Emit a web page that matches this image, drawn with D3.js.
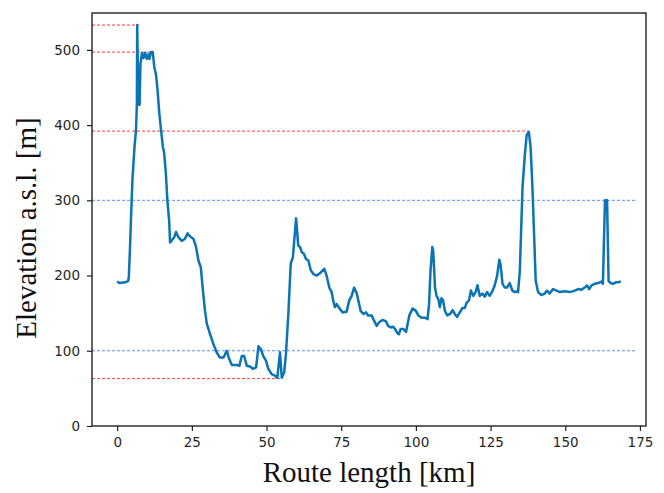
<!DOCTYPE html>
<html>
<head>
<meta charset="utf-8">
<script src="https://cdn.jsdelivr.net/npm/d3@7"></script>
<style>
	body { margin: 0; background: #fff; }
	svg { display: block; }
</style>
</head>
<body>
<div id="chart"></div>
<script>
const routeKm = [0, 0.7, 2.7, 3.7, 3.9, 4.3, 4.6, 5.1, 5.8, 6.3, 6.6, 6.7, 7.1, 7.5, 7.8, 8.3, 8.8, 9.4, 9.9, 10.5, 10.8, 11.3, 11.9, 12.4, 13.0, 13.5, 14.1, 14.7, 15.3, 15.7, 16.3, 16.8, 17.4, 17.7, 18.3, 19.1, 19.7, 20.5, 21.6, 22.7, 23.6, 24.4, 25.5, 26.4, 27.2, 28.0, 28.7, 29.4, 30.0, 31.1, 32.2, 33.3, 34.4, 35.6, 36.7, 37.5, 38.4, 40.0, 40.9, 41.7, 42.5, 43.4, 44.5, 45.4, 46.5, 47.3, 48.1, 48.9, 49.8, 50.6, 51.7, 52.8, 53.6, 54.5, 55.1, 55.9, 56.5, 57.3, 58.1, 58.8, 59.9, 60.6, 61.2, 61.8, 62.5, 63.2, 64.0, 64.8, 65.7, 66.8, 67.9, 69.3, 70.1, 71.0, 71.8, 72.3, 72.9, 73.5, 74.3, 75.5, 76.8, 77.7, 78.5, 79.3, 80.2, 80.9, 81.5, 82.4, 83.3, 84.0, 85.2, 86.0, 86.9, 87.7, 88.9, 90.0, 90.7, 91.6, 92.4, 93.0, 93.7, 94.3, 94.9, 95.8, 96.7, 97.8, 98.9, 100.0, 100.8, 101.9, 103.0, 103.9, 104.4, 104.9, 105.5, 105.8, 106.4, 106.9, 107.5, 108.0, 108.6, 109.1, 109.7, 110.5, 111.4, 112.3, 113.0, 113.8, 114.7, 115.6, 116.4, 117.0, 117.8, 118.4, 119.2, 120.0, 120.6, 121.4, 122.3, 123.1, 123.8, 124.7, 125.7, 126.4, 127.2, 127.9, 128.3, 129.0, 129.8, 130.5, 131.4, 132.3, 133.1, 133.7, 134.2, 134.8, 135.7, 136.5, 137.1, 137.8, 138.4, 139.0, 139.6, 140.1, 140.9, 142.0, 143.1, 143.9, 144.8, 145.9, 147.1, 148.2, 149.8, 151.5, 153.2, 154.3, 155.4, 156.5, 157.3, 158.0, 158.8, 159.9, 161.0, 162.1, 162.6, 163.3, 164.0, 164.5, 165.2, 166.0, 166.9, 167.7, 168.6];
const elevation = [192, 190, 191, 193, 198, 238, 273, 327, 371, 393, 429, 533, 427, 427, 482, 496, 489, 496, 488, 494, 488, 497, 497, 478, 467, 447, 416, 393, 371, 364, 336, 300, 273, 244, 247, 251, 258, 251, 246, 249, 256, 252, 249, 238, 220, 211, 180, 153, 136, 122, 109, 98, 91, 91, 100, 89, 81, 81, 80, 93, 93, 80, 79, 76, 78, 106, 102, 93, 87, 76, 69, 67, 64, 98, 64, 71, 96, 149, 216, 224, 276, 240, 238, 231, 229, 222, 220, 207, 202, 200, 203, 209, 200, 184, 178, 167, 158, 162, 157, 151, 152, 167, 173, 184, 176, 164, 153, 149, 151, 147, 147, 140, 133, 138, 141, 139, 133, 131, 132, 129, 124, 122, 129, 129, 125, 147, 156, 153, 147, 144, 144, 142, 162, 207, 238, 233, 184, 173, 169, 158, 170, 167, 153, 147, 149, 154, 149, 145, 151, 157, 157, 164, 167, 180, 173, 178, 187, 173, 176, 172, 178, 173, 180, 187, 200, 221, 216, 189, 184, 184, 190, 180, 178, 179, 178, 207, 318, 362, 387, 391, 371, 318, 251, 193, 178, 174, 176, 180, 176, 182, 180, 178, 179, 178, 180, 182, 181, 184, 187, 182, 187, 189, 190, 192, 189, 300, 300, 193, 190, 189, 191, 191, 192];

const xTicks = [0, 25, 50, 75, 100, 125, 150, 175];
const yTicks = [0, 100, 200, 300, 400, 500];

// red reference levels and the km where each one stops
const redLevels = [533, 497, 392, 63];
const redEndKm = [7.4, 11.9, 137.6, 55.1];
const blueLevels = [300, 100];
const blueEndKm = 173.6;

const w = 664;
const h = 493;
const margin = { top: 13, right: 18, bottom: 67, left: 92 };

const xScale = d3.scaleLinear()
	.domain([-8.43, 177.03])
	.range([margin.left, w - margin.right]);

const yScale = d3.scaleLinear()
	.domain([0, 549])
	.range([h - margin.bottom, margin.top]);

const svg = d3.select("#chart")
	.append("svg")
	.attr("width", w)
	.attr("height", h)
	.style("background", "#fff");

// dashed reference lines
svg.append("g")
	.selectAll("line")
	.data(blueLevels)
	.enter()
	.append("line")
	.attr("x1", xScale(-8.43))
	.attr("x2", xScale(blueEndKm))
	.attr("y1", d => yScale(d))
	.attr("y2", d => yScale(d))
	.attr("stroke", "#5a8ff0")
	.attr("stroke-width", 1)
	.attr("stroke-dasharray", "3,2");

svg.append("g")
	.selectAll("line")
	.data(redLevels)
	.enter()
	.append("line")
	.attr("x1", xScale(-8.43))
	.attr("x2", (d, i) => xScale(redEndKm[i]))
	.attr("y1", d => yScale(d))
	.attr("y2", d => yScale(d))
	.attr("stroke", "#ff3b3b")
	.attr("stroke-width", 1)
	.attr("stroke-dasharray", "3,2");

// elevation profile
const line = d3.line()
	.x((d, i) => xScale(routeKm[i]))
	.y(d => yScale(d));

svg.append("path")
	.datum(elevation)
	.attr("d", line)
	.attr("fill", "none")
	.attr("stroke", "#0a74b6")
	.attr("stroke-width", 2.5)
	.attr("stroke-linejoin", "round");

// axes
const xAxis = d3.axisBottom(xScale).tickValues(xTicks).tickSize(5).tickPadding(6);
const yAxis = d3.axisLeft(yScale).tickValues(yTicks).tickSize(5).tickPadding(7);

svg.append("g")
	.attr("transform", `translate(0, ${h - margin.bottom})`)
	.call(xAxis)
	.call(g => g.select(".domain").remove());

svg.append("g")
	.attr("transform", `translate(${margin.left}, 0)`)
	.call(yAxis)
	.call(g => g.select(".domain").remove());

svg.selectAll(".tick text")
	.style("font-family", "DejaVu Sans")
	.style("font-size", "13.5px")
	.attr("fill", "#262626");

svg.selectAll(".tick line")
	.attr("stroke", "#222")
	.attr("stroke-width", 1.2);

// frame
svg.append("rect")
	.attr("x", margin.left)
	.attr("y", margin.top)
	.attr("width", w - margin.left - margin.right)
	.attr("height", h - margin.top - margin.bottom)
	.attr("fill", "none")
	.attr("stroke", "#111")
	.attr("stroke-width", 1.3);

// axis titles
svg.append("text")
	.text("Route length [km]")
	.attr("x", (margin.left + w - margin.right) / 2)
	.attr("y", 482)
	.style("text-anchor", "middle")
	.style("font-family", "Liberation Serif")
	.style("font-size", "29px")
	.attr("fill", "#111");

svg.append("text")
	.text("Elevation a.s.l. [m]")
	.attr("transform", "translate(36, 228) rotate(-90)")
	.style("text-anchor", "middle")
	.style("font-family", "Liberation Serif")
	.style("font-size", "29px")
	.attr("fill", "#111");
</script>
</body>
</html>
